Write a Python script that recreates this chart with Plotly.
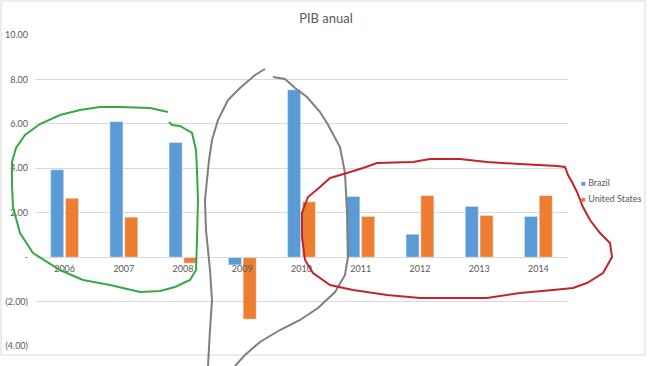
import plotly.graph_objects as go

years = ["2006", "2007", "2008", "2009", "2010", "2011", "2012", "2013", "2014"]
brazil = [3.93, 6.10, 5.16, -0.35, 7.53, 2.73, 1.03, 2.28, 1.83]
united_states = [2.65, 1.80, -0.27, -2.79, 2.49, 1.83, 2.77, 1.87, 2.77]
series_names = ["Brazil", "United States"]
series_colors = ["#5B9BD5", "#ED7D31"]
y_tickvals = [-4, -2, 0, 2, 4, 6, 8, 10]
y_ticktext = ["(4.00)", "(2.00)", "-", "2.00", "4.00", "6.00", "8.00", "10.00"]

W, H = 652, 366
L, R, T, B = 35, 568, 35, 346  # plot area in pixels
FONT = "Lato, 'Open Sans', sans-serif"

def px_x(x):
    return (x - L) / (R - L)

def px_y(y):
    return (B - y) / (B - T)

def path_of(pts, close=False):
    s = "M " + " L ".join(f"{px_x(x):.4f},{px_y(y):.4f}" for x, y in pts)
    return s + (" Z" if close else "")

green = [(168, 112), (150, 108), (120, 107), (100, 107), (80, 110), (60, 115), (40, 124),
         (25, 135), (16, 148), (12, 162), (12, 185), (13, 207), (20, 233), (33, 253),
         (60, 270), (83, 280), (110, 285), (140, 292), (160, 291), (175, 287), (190, 280),
         (196, 270), (197, 240), (198, 200), (197, 170), (196, 150), (192, 133), (180, 126),
         (172, 125), (169, 122)]
gray1 = [(265, 69), (255, 75), (240, 88), (228, 100), (218, 120), (212, 140), (209, 160),
         (207, 180), (205, 200), (206, 230), (210, 270), (212, 300), (210, 330), (208, 366)]
gray2 = [(273, 77), (285, 79), (295, 88), (307, 97), (320, 112), (327, 123), (340, 147),
         (345, 173), (347, 213), (348, 257), (345, 275), (335, 292), (318, 308), (300, 320),
         (280, 330), (260, 342), (245, 355), (235, 366)]
red = [(330, 178), (347, 173), (363, 168), (377, 163), (413, 162), (430, 159), (460, 159),
       (487, 162), (520, 164), (557, 166), (565, 167), (568, 175), (572, 182), (577, 192),
       (583, 207), (590, 220), (600, 233), (610, 243), (612, 257), (603, 273), (587, 283),
       (573, 288), (553, 290), (520, 293), (487, 298), (453, 298), (420, 298), (387, 295),
       (353, 290), (330, 285), (313, 273), (305, 260), (302, 237), (302, 213), (308, 197),
       (320, 187), (330, 178)]

fig = go.Figure()
fig.add_trace(go.Bar(name=series_names[0], x=years, y=brazil, marker_color=series_colors[0]))
fig.add_trace(go.Bar(name=series_names[1], x=years, y=united_states, marker_color=series_colors[1]))

shapes = [
    dict(type="rect", xref="paper", yref="paper",
         x0=px_x(1), x1=px_x(645), y0=px_y(355), y1=px_y(1),
         line=dict(color="#d9d9d9", width=1), fillcolor="rgba(0,0,0,0)", layer="below"),
]
for pts, col, close in [(green, "#36A845", False), (gray1, "#7f7f7f", False),
                        (gray2, "#7f7f7f", False), (red, "#C0252B", True)]:
    shapes.append(dict(type="path", xref="paper", yref="paper", path=path_of(pts, close),
                       line=dict(color=col, width=2), layer="above"))

# legend drawn as text entries to match the compact Excel legend
annotations = []
for i, (name, col) in enumerate(zip(series_names, series_colors)):
    annotations.append(dict(
        xref="paper", yref="paper", x=px_x(579), y=px_y(182.5 + 16 * i),
        xanchor="left", yanchor="middle", showarrow=False,
        text=f"<span style='color:{col};font-size:8px'>■</span> {name}",
        font=dict(family=FONT, size=9, color="#595959")))

fig.update_layout(
    width=W, height=H,
    margin=dict(l=L, r=W - R, t=T, b=H - B, pad=0, autoexpand=False),
    paper_bgcolor="white", plot_bgcolor="white",
    font=dict(family=FONT, color="#595959", size=9),
    title=dict(text="PIB anual", x=0.5, xanchor="center", y=1 - 18 / H, yanchor="middle",
               font=dict(size=13, color="#595959")),
    barmode="group", bargap=0.5, bargroupgap=0.12,
    showlegend=False,
    xaxis=dict(anchor="free", position=px_y(257.3), showline=True,
               linecolor="#d9d9d9", linewidth=1, ticks="", showgrid=False, automargin=False,
               tickfont=dict(size=9, color="#595959"), ticklabelstandoff=3),
    yaxis=dict(range=[-4, 10], tickvals=y_tickvals, ticktext=y_ticktext, automargin=False,
               gridcolor="#d9d9d9", gridwidth=1, zeroline=False, showline=False,
               ticks="", tickfont=dict(size=9, color="#595959"), ticklabelstandoff=6),
    shapes=shapes,
    annotations=annotations,
)

fig.write_html("out.html", config={"displayModeBar": False},
               post_script="document.body.style.margin='0px';")
